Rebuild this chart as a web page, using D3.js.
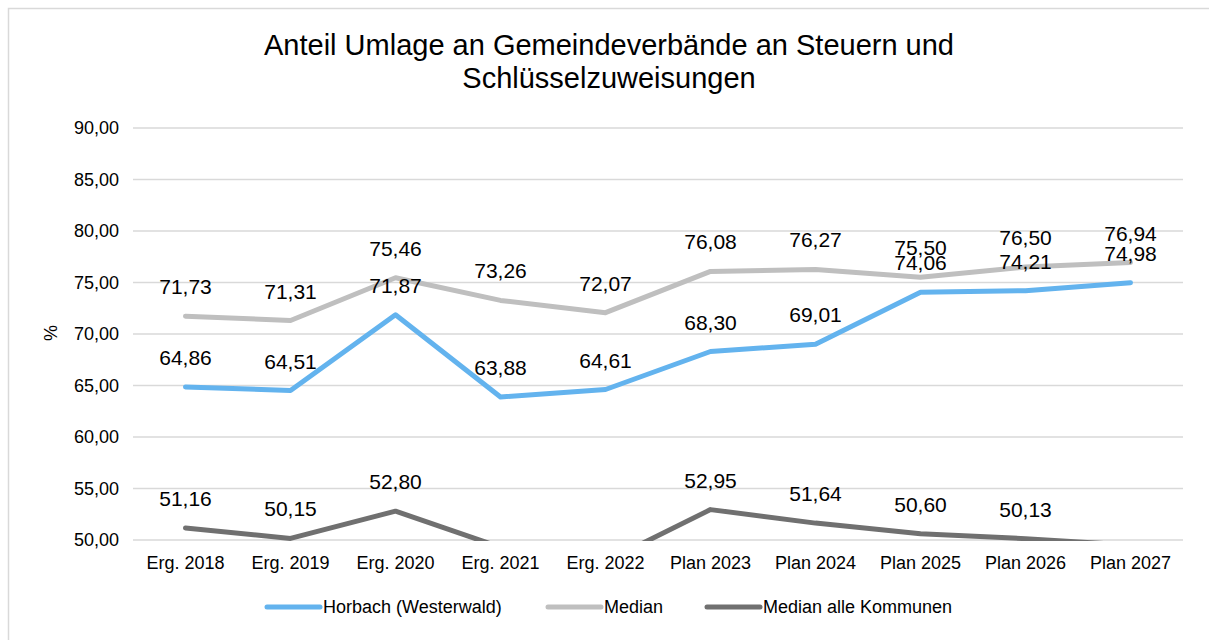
<!DOCTYPE html>
<html>
<head>
<meta charset="utf-8">
<script src="https://cdn.jsdelivr.net/npm/d3@7"></script>
<style>
  body { margin: 0; background: #fff; }
  text { font-family: "Liberation Sans", Arial, sans-serif; fill: #000; }
</style>
</head>
<body>
<div class="chart"></div>
<script>
// data
var categories = ["Erg. 2018", "Erg. 2019", "Erg. 2020", "Erg. 2021", "Erg. 2022",
                  "Plan 2023", "Plan 2024", "Plan 2025", "Plan 2026", "Plan 2027"];
var horbach = [64.86, 64.51, 71.87, 63.88, 64.61, 68.30, 69.01, 74.06, 74.21, 74.98];
var median = [71.73, 71.31, 75.46, 73.26, 72.07, 76.08, 76.27, 75.50, 76.50, 76.94];
// 2021, 2022, 2027 lie below the axis minimum (estimated from the clipped line)
var medianAlle = [51.16, 50.15, 52.80, 49.3, 47.9, 52.95, 51.64, 50.60, 50.13, 49.5];
var seriesNames = ["Horbach (Westerwald)", "Median", "Median alle Kommunen"];
var yTicks = [50, 55, 60, 65, 70, 75, 80, 85, 90];

var w = 1209, h = 640;
var colors = ["#63b3ee", "#bfbfbf", "#707070"];

var svg = d3.select(".chart").append("svg").attr("width", w).attr("height", h);

// outer frame
svg.append("rect").attr("x", 8.5).attr("y", 8.5).attr("width", 1220).attr("height", 660)
   .attr("fill", "none").attr("stroke", "#d9d9d9").attr("stroke-width", 1.5);

// title
svg.append("text").attr("x", 609).attr("y", 55).attr("text-anchor", "middle")
   .style("font-size", "29px").text("Anteil Umlage an Gemeindeverbände an Steuern und");
svg.append("text").attr("x", 609).attr("y", 88).attr("text-anchor", "middle")
   .style("font-size", "29px").text("Schlüsselzuweisungen");

var x = d3.scaleBand().domain(categories).range([133, 1183]);
var y = d3.scaleLinear().domain([50, 90]).range([540, 128]);

// gridlines
svg.selectAll("line.grid").data(yTicks).enter().append("line")
   .attr("class", "grid")
   .attr("x1", 133).attr("x2", 1183)
   .attr("y1", function(d){ return y(d); }).attr("y2", function(d){ return y(d); })
   .attr("stroke", "#d9d9d9").attr("stroke-width", 1.5);

// y axis
var yAxis = svg.append("g").attr("transform", "translate(133,0)")
   .call(d3.axisLeft(y).tickValues(yTicks).tickSize(0).tickPadding(14)
     .tickFormat(function(d){ return d3.format(".2f")(d).replace(".", ","); }));
yAxis.select(".domain").remove();
yAxis.selectAll("text").style("font-size", "18px").attr("fill", "#000")
   .style("font-family", "'Liberation Sans', Arial, sans-serif");

svg.append("text").attr("transform", "translate(57,333) rotate(-90)")
   .attr("text-anchor", "middle").style("font-size", "18px").text("%");

// x axis
var xAxis = svg.append("g").attr("transform", "translate(0,540)")
   .call(d3.axisBottom(x).tickSize(0).tickPadding(16));
xAxis.select(".domain").remove();
xAxis.selectAll("text").style("font-size", "18px").attr("fill", "#000")
   .style("font-family", "'Liberation Sans', Arial, sans-serif");

// clip to plot area
svg.append("clipPath").attr("id", "plot")
   .append("rect").attr("x", 0).attr("y", 120).attr("width", w).attr("height", 421);

var line = d3.line()
   .x(function(d, i){ return x(categories[i]) + x.bandwidth() / 2; })
   .y(function(d){ return y(d); });

var allSeries = [horbach, median, medianAlle];
// draw dark first, then median, then horbach on top
[2, 1, 0].forEach(function(s){
  svg.append("path").datum(allSeries[s])
     .attr("d", line)
     .attr("clip-path", "url(#plot)")
     .attr("fill", "none")
     .attr("stroke", colors[s])
     .attr("stroke-width", 5)
     .attr("stroke-linejoin", "round")
     .attr("stroke-linecap", "round");
});

// data labels
allSeries.forEach(function(data){
  svg.append("g").selectAll("text")
     .data(data.map(function(v, i){ return {v: v, c: categories[i]}; })
               .filter(function(d){ return d.v >= 50; }))
     .enter().append("text")
     .attr("x", function(d){ return x(d.c) + x.bandwidth() / 2; })
     .attr("y", function(d){ return y(d.v) - 22; })
     .attr("text-anchor", "middle")
     .style("font-size", "21px")
     .text(function(d){ return d3.format(".2f")(d.v).replace(".", ","); });
});

// legend
var legendX = [267, 548, 707];
seriesNames.forEach(function(name, i){
  var g = svg.append("g");
  g.append("line").attr("x1", legendX[i]).attr("x2", legendX[i] + 53)
   .attr("y1", 607).attr("y2", 607)
   .attr("stroke", colors[i]).attr("stroke-width", 5).attr("stroke-linecap", "round");
  g.append("text").attr("x", legendX[i] + 56).attr("y", 613)
   .style("font-size", "18px").text(name);
});
</script>
</body>
</html>
